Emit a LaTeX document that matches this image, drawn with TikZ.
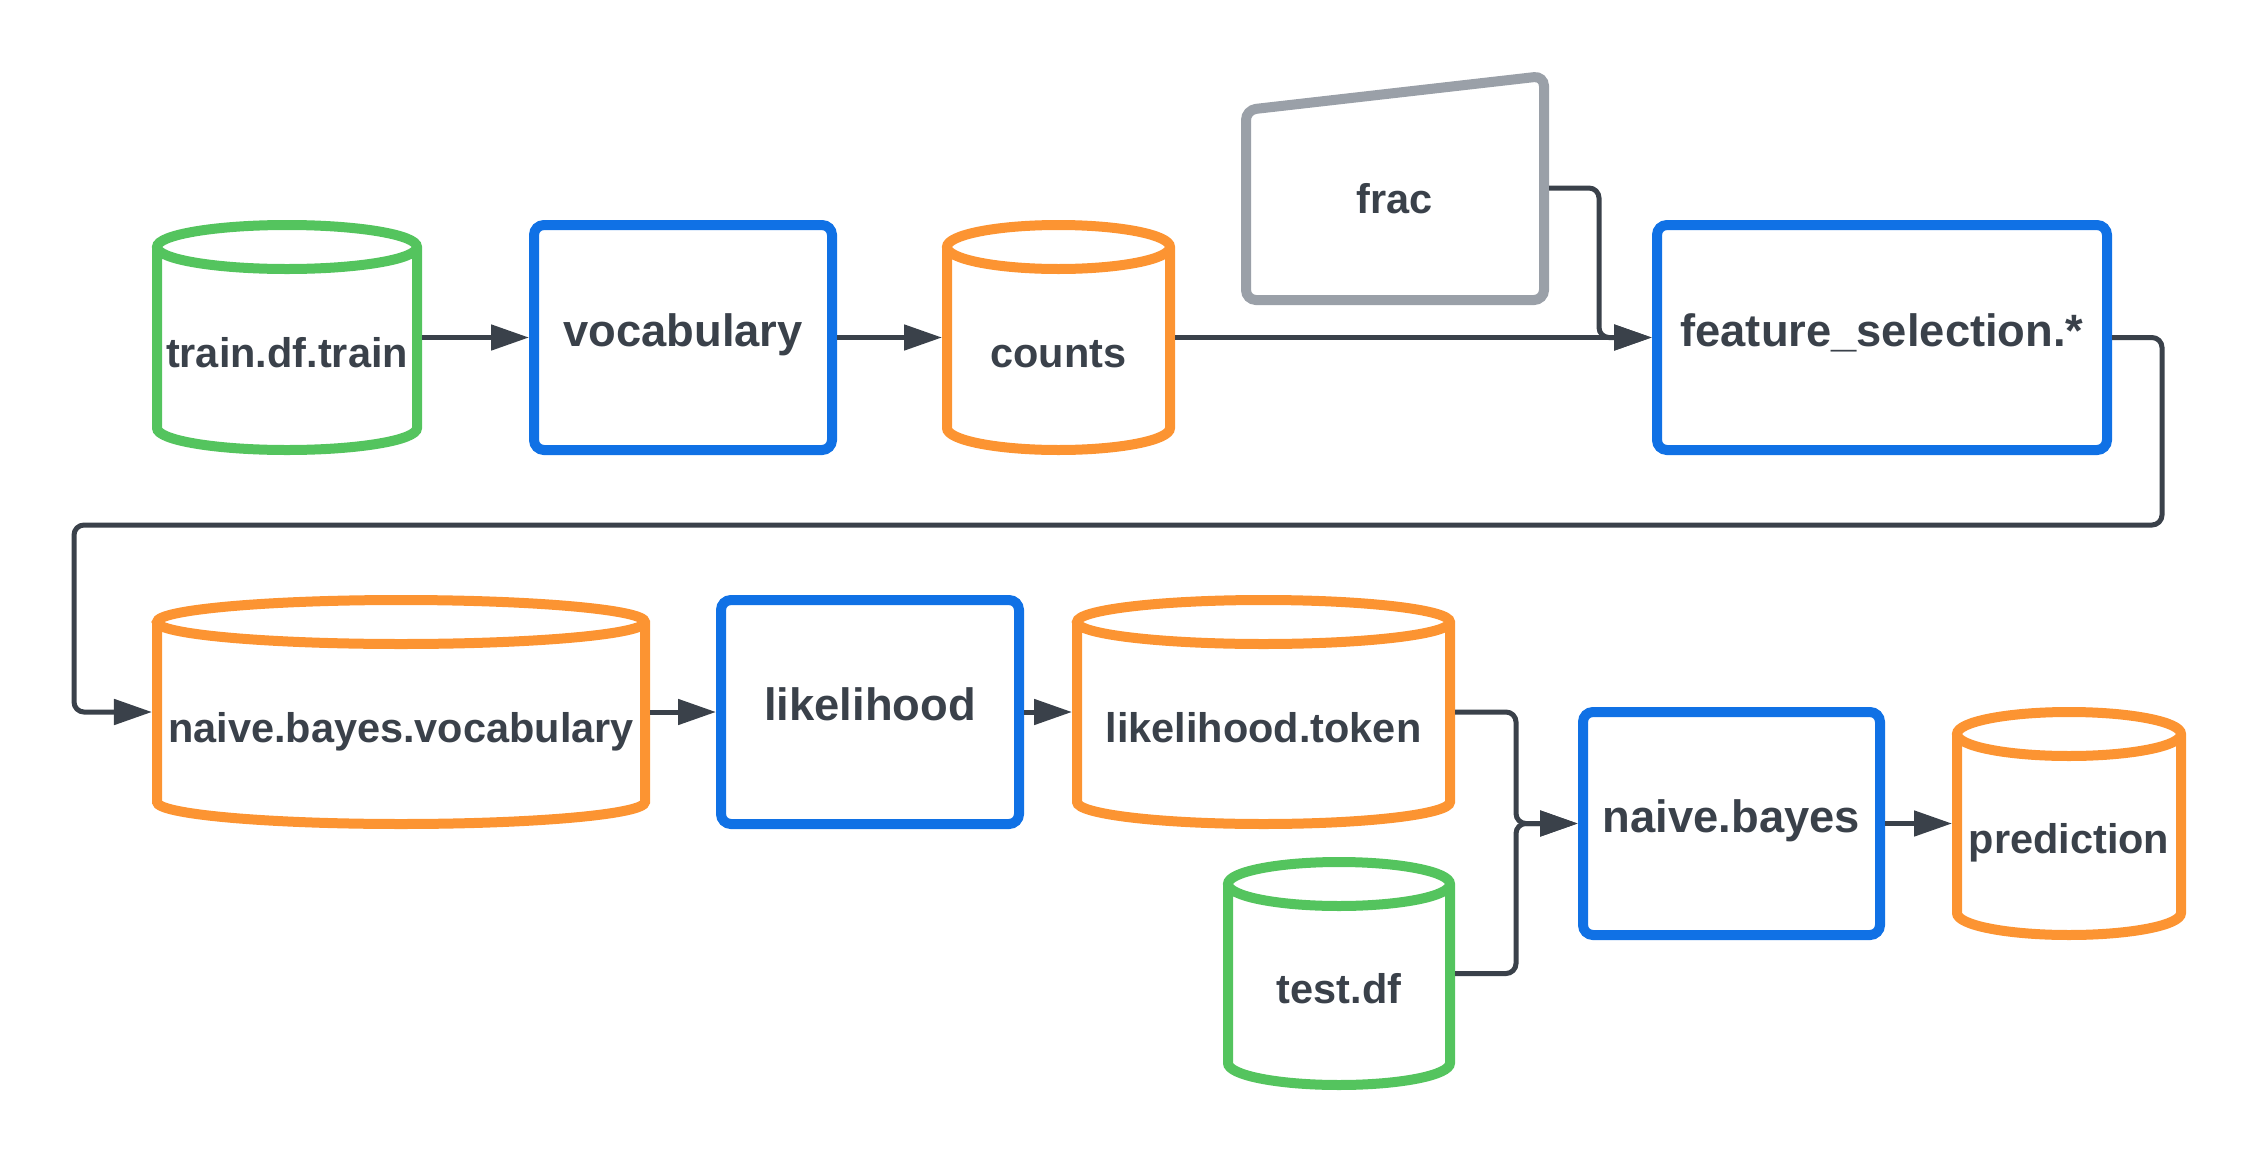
\documentclass[tikz,border=0pt]{standalone}
\usepackage{fontspec}
\setmainfont{Liberation Sans}
\usepackage{tikz}
\usetikzlibrary{arrows.meta}
\definecolor{ink}{HTML}{3A414A}
\definecolor{lgreen}{HTML}{54C45E}
\definecolor{lblue}{HTML}{1071E5}
\definecolor{lorange}{HTML}{FC9432}
\definecolor{lgrey}{HTML}{9AA0A8}

% cylinder outline round a node: name, x radius, colour
\newcommand{\drawcyl}[3]{%
\draw[cylline, #3] ([shift={(0.05,-0.27)}]#1.north west)
  -- ([shift={(0.05,0.27)}]#1.south west)
  arc[start angle=180, end angle=360, x radius=#2, y radius=0.22cm]
  -- ([shift={(-0.05,-0.27)}]#1.north east)
  arc[start angle=0, end angle=360, x radius=#2, y radius=0.22cm];
}

\begin{document}
\begin{tikzpicture}[every node/.style={text=ink, font=\bfseries\fontsize{11.8}{14}\selectfont, inner sep=0pt, outer sep=0pt},
  procbox/.style={draw=lblue, line width=0.1cm, rounded corners=0.1cm, outer sep=0.05cm, minimum width=2.98cm, minimum height=2.25cm, text height=0.34cm, text depth=0.17cm, font=\bfseries\fontsize{12.9}{15}\selectfont},
  cylbox/.style={minimum height=2.35cm, text height=0.7cm, text depth=0.1cm},
  cylline/.style={line width=0.1cm},
  link/.style={ink, line width=0.05cm, rounded corners=0.1cm, -{Triangle[length=0.38cm, width=0.25cm]}}]
\useasboundingbox (0,0) rectangle (22.56,-11.63);

% First row left to right
\node[cylbox, minimum width=2.70cm] (train) at (2.87,-3.375) {train.df.train};
\node[procbox] (vocab) at (6.83,-3.375) {vocabulary};
\node[cylbox, minimum width=2.33cm] (counts) at (10.585,-3.375) {counts};
\node[minimum width=3.08cm, minimum height=2.00cm, text height=0.30cm, text depth=0.14cm] (frac) at (13.95,-2.05) {frac};
\node[procbox, minimum width=4.50cm] (feat) at (18.82,-3.375) {feature\_selection.*};

% Second row left to right
\node[cylbox, minimum width=4.98cm, minimum height=2.34cm] (nbvocab) at (4.01,-7.12) {naive.bayes.vocabulary};
\node[procbox, minimum height=2.24cm] (lik) at (8.70,-7.12) {likelihood};
\node[cylbox, minimum width=3.83cm, minimum height=2.34cm] (liktok) at (12.635,-7.12) {likelihood.token};
\node[cylbox, minimum width=2.32cm, minimum height=2.33cm] (test) at (13.39,-9.735) {test.df};
\node[procbox, minimum width=2.97cm, minimum height=2.23cm] (nb) at (17.315,-8.235) {naive.bayes};
\node[cylbox, minimum width=2.34cm, minimum height=2.33cm] (pred) at (20.69,-8.235) {prediction};

% Outlines
\drawcyl{train}{1.30cm}{lgreen}
\drawcyl{counts}{1.115cm}{lorange}
\drawcyl{nbvocab}{2.44cm}{lorange}
\drawcyl{liktok}{1.865cm}{lorange}
\drawcyl{test}{1.11cm}{lgreen}
\drawcyl{pred}{1.12cm}{lorange}
\draw[cylline, lgrey, rounded corners=0.1cm] ([shift={(0.05,0.05)}]frac.south west) -- ([shift={(0.05,-0.05)}]frac.north west)
  -- ([shift={(-0.05,0.29)}]frac.north east) -- ([shift={(-0.05,0.05)}]frac.south east) -- cycle;

% Bends of the connectors
\coordinate (fjoin) at (15.99,-3.375);
\coordinate (wrapR) at (21.62,-5.25);
\coordinate (wrapL) at (0.74,-5.25);
\coordinate (njoin) at (15.16,-8.235);

% Connectors
\draw[link] (train.east) -- (vocab.west);
\draw[link] (vocab.east) -- (counts.west);
\draw[link] (counts.east) -- (feat.west);
\draw[link] ([yshift=0.17cm]frac.east) -| (fjoin) -- (feat.west);
\draw[link] (feat.east) -| (wrapR) -- (wrapL) |- (nbvocab.west);
\draw[link] (nbvocab.east) -- (lik.west);
\draw[link] (lik.east) -- (liktok.west);
\draw[link] (liktok.east) -| (njoin) -- (nb.west);
\draw[link] (test.east) -| (njoin) -- (nb.west);
\draw[link] (nb.east) -- (pred.west);
\end{tikzpicture}
\end{document}
